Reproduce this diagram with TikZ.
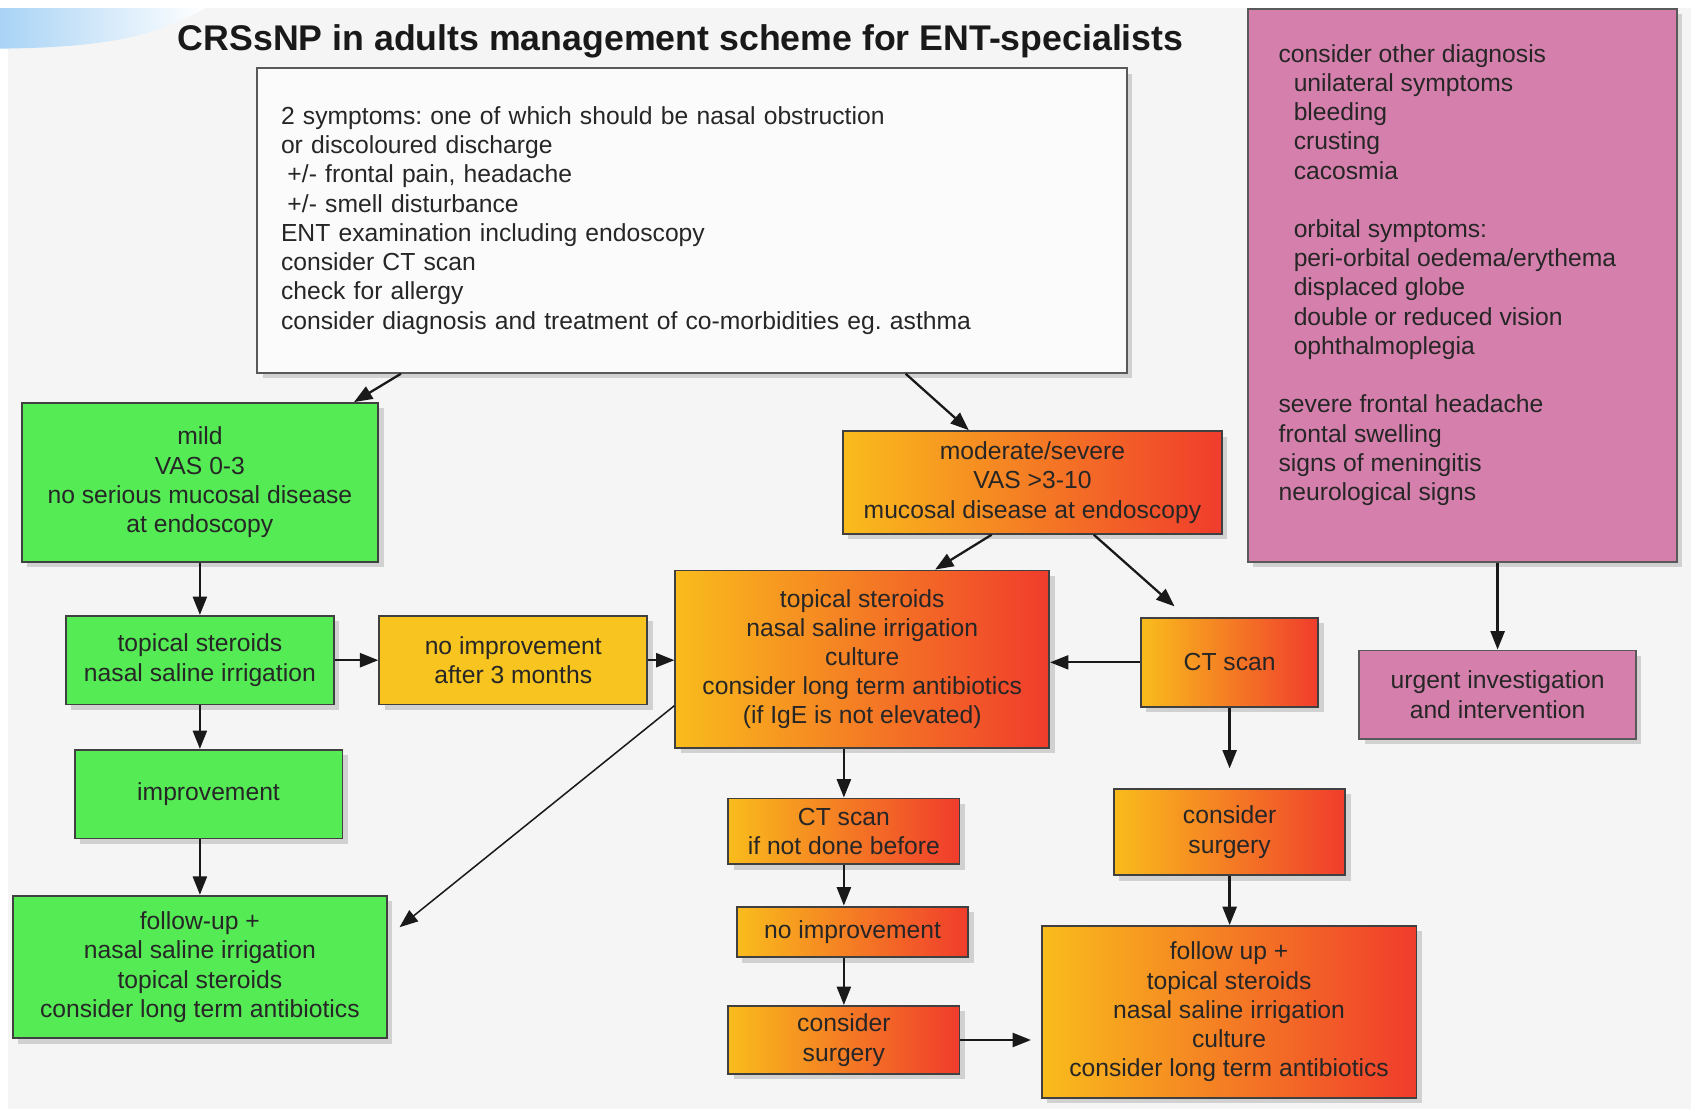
\documentclass[tikz,border=0pt]{standalone}
\usepackage{fontspec}
\setmainfont{Liberation Sans}
\usetikzlibrary{arrows.meta,calc,shadows}
\frenchspacing
\definecolor{pagegray}{HTML}{F5F5F5}
\definecolor{skyblue}{HTML}{A9D3F5}
\definecolor{boxgreen}{HTML}{55EB55}
\definecolor{boxyellow}{HTML}{F8C420}
\definecolor{boxgold}{HTML}{F9BC1C}
\definecolor{boxred}{HTML}{F03C2C}
\definecolor{boxpink}{HTML}{D580AC}
\definecolor{boxwhite}{HTML}{FBFBFB}
\tikzset{
    base-box/.style = {draw=black!75, line width=1pt, rectangle, inner sep=2pt, align=center, text=black!85, font=\fontsize{13}{15.4}\selectfont, drop shadow={shadow xshift=0.1cm, shadow yshift=-0.1cm, opacity=0.3}},
    green-box/.style = {base-box, fill=boxgreen},
    yellow-box/.style = {base-box, fill=boxyellow},
    orange-box/.style = {base-box, left color=boxgold, right color=boxred},
    pink-box/.style = {base-box, fill=boxpink, draw=black!65},
    white-box/.style = {base-box, fill=boxwhite, draw=black!65},
    flow-arrow/.style = {-{Triangle[length=0.34cm, width=0.26cm]}, line width=1.2pt, draw=black!90},
}

\begin{document}
\begin{tikzpicture}[x=0.02cm, y=-0.02cm]
\fill[white] (0,0) rectangle (1565,1026.4);
\fill[pagegray] (7,7) rectangle (1565,1026.4);
\shade[left color=skyblue, right color=white] (0,7.5) -- (190,7.5) .. controls (150,30) and (110,44) .. (0,45) -- cycle;

\node[font=\bfseries\fontsize{18.8}{22}\selectfont, text=black!90] (title) at (630,38) {CRSsNP in adults management scheme for ENT-specialists};

\node[white-box, minimum width=16.1cm, minimum height=5.64cm, text width=15.22cm, align=left] (criteria) at (640.5,204) {2 symptoms: one of which should be nasal obstruction\\
or discoloured discharge\\
\hspace*{0.12cm}+/- frontal pain, headache\\
\hspace*{0.12cm}+/- smell disturbance\\
ENT examination including endoscopy\\
consider CT scan\\
check for allergy\\
consider diagnosis and treatment of co-morbidities eg. asthma};

\node[pink-box, minimum width=7.94cm, minimum height=10.24cm] (other) at (1353.5,264) {};
\node[anchor=west, inner sep=0pt, align=left, text=black!85, font=\fontsize{13}{15.4}\selectfont] (other-list) at (1183,254.5) {consider other diagnosis\\
\hspace*{0.28cm}unilateral symptoms\\
\hspace*{0.28cm}bleeding\\
\hspace*{0.28cm}crusting\\
\hspace*{0.28cm}cacosmia\\[15.4pt]
\hspace*{0.28cm}orbital symptoms:\\
\hspace*{0.28cm}peri-orbital oedema/erythema\\
\hspace*{0.28cm}displaced globe\\
\hspace*{0.28cm}double or reduced vision\\
\hspace*{0.28cm}ophthalmoplegia\\[15.4pt]
severe frontal headache\\
frontal swelling\\
signs of meningitis\\
neurological signs};
\node[pink-box, minimum width=5.12cm, minimum height=1.64cm] (urgent) at (1386,643) {urgent investigation\\and intervention};

\node[green-box, minimum width=6.6cm, minimum height=2.94cm] (mild) at (185,446.5) {mild\\VAS 0-3\\no serious mucosal disease\\at endoscopy};
\node[green-box, minimum width=4.96cm, minimum height=1.64cm] (steroids-g) at (185,611) {topical steroids\\nasal saline irrigation};
\node[yellow-box, minimum width=4.96cm, minimum height=1.64cm] (no-improve-3m) at (475,611) {no improvement\\after 3 months};
\node[green-box, minimum width=4.96cm, minimum height=1.64cm] (improve) at (193,735) {improvement};
\node[green-box, minimum width=6.92cm, minimum height=2.64cm] (follow-g) at (185,895) {follow-up +\\nasal saline irrigation\\topical steroids\\consider long term antibiotics};

\node[orange-box, minimum width=7.02cm, minimum height=1.9cm] (severe) at (955.5,446.5) {moderate/severe\\VAS >3-10\\mucosal disease at endoscopy};
\node[orange-box, minimum width=6.92cm, minimum height=3.28cm] (steroids-o) at (798,610) {topical steroids\\nasal saline irrigation\\culture\\consider long term antibiotics\\(if IgE is not elevated)};
\node[orange-box, minimum width=3.28cm, minimum height=1.64cm] (ct) at (1138,613) {CT scan};
\node[orange-box, minimum width=4.28cm, minimum height=1.22cm] (ct-before) at (781,769.5) {CT scan\\if not done before};
\node[orange-box, minimum width=4.28cm, minimum height=0.94cm] (no-improve) at (789,862.5) {no improvement};
\node[orange-box, minimum width=4.28cm, minimum height=1.26cm] (surgery-a) at (781,962.5) {consider\\surgery};
\node[orange-box, minimum width=4.28cm, minimum height=1.6cm] (surgery-b) at (1138,770) {consider\\surgery};
\node[orange-box, minimum width=6.94cm, minimum height=3.18cm] (follow-o) at (1137.5,936.5) {follow up +\\topical steroids\\nasal saline irrigation\\culture\\consider long term antibiotics};

\draw[flow-arrow] ($(criteria.south west)!0.166!(criteria.south east)$) -- ($(mild.north west)!0.93!(mild.north east)$);
\draw[flow-arrow] ($(criteria.south west)!0.745!(criteria.south east)$) -- ($(severe.north west)!0.333!(severe.north east)$);
\draw[flow-arrow] (mild.south) -- (steroids-g.north);
\draw[flow-arrow] (steroids-g.east) -- (no-improve-3m.west);
\draw[flow-arrow] (no-improve-3m.east) -- (no-improve-3m.east -| steroids-o.west);
\draw[flow-arrow] (steroids-g.south) -- (steroids-g.south |- improve.north);
\draw[flow-arrow] (follow-g.north |- improve.south) -- (follow-g.north);
\draw[flow-arrow, line width=0.8pt, shorten >=0.28cm] ($(steroids-o.north west)!0.76!(steroids-o.south west)$) -- ($(follow-g.north east)!0.29!(follow-g.south east)$);
\draw[flow-arrow] ($(severe.south west)!0.393!(severe.south east)$) -- ($(steroids-o.north west)!0.694!(steroids-o.north east)$);
\draw[flow-arrow, shorten >=0.3cm] ($(severe.south west)!0.661!(severe.south east)$) -- ($(ct.north west)!0.26!(ct.north east)$);
\draw[flow-arrow] (ct.west) -- (ct.west -| steroids-o.east);
\draw[flow-arrow, shorten >=0.36cm] (ct.south) -- (surgery-b.north);
\draw[flow-arrow] (surgery-b.south) -- (surgery-b.south |- follow-o.north);
\draw[flow-arrow] (ct-before.north |- steroids-o.south) -- (ct-before.north);
\draw[flow-arrow] (ct-before.south) -- (ct-before.south |- no-improve.north);
\draw[flow-arrow] (surgery-a.north |- no-improve.south) -- (surgery-a.north);
\draw[flow-arrow, shorten >=0.18cm] (surgery-a.east) -- (surgery-a.east -| follow-o.west);
\draw[flow-arrow] (urgent.north |- other.south) -- (urgent.north);
\end{tikzpicture}
\end{document}
